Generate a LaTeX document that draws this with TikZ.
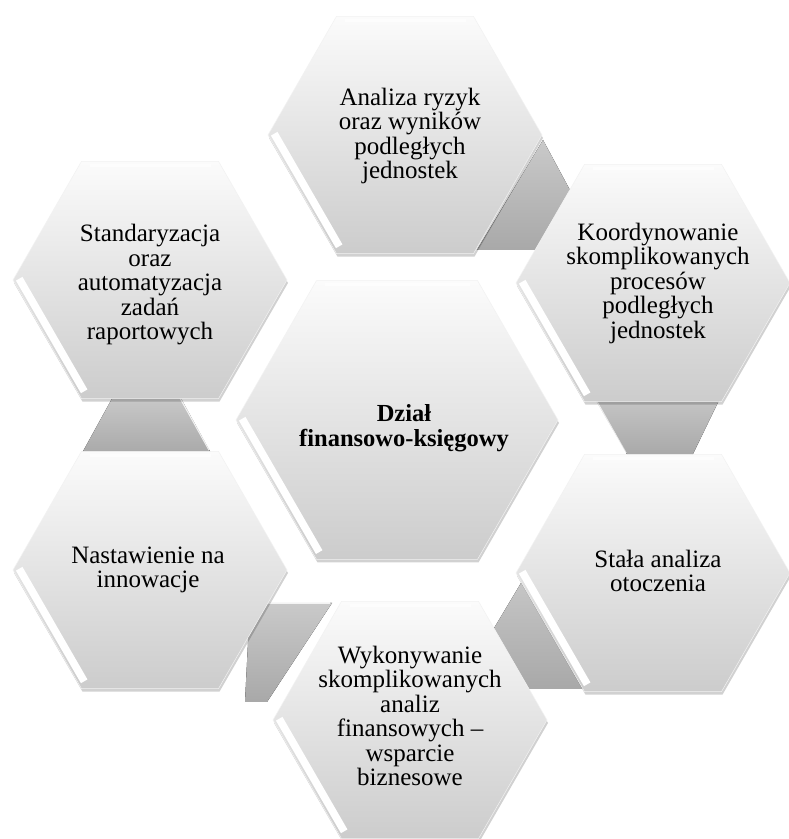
\documentclass[tikz,border=0pt]{standalone}
\usepackage{fontspec}
\setmainfont{Liberation Serif}
\usetikzlibrary{calc,shapes.geometric,shadows}
\tikzset{
  hexo/.style={regular polygon, regular polygon sides=6, minimum size=274pt,
    inner sep=0pt, outer sep=0pt, top color=gray!3, bottom color=gray!40,
    draw=white!90!gray, line width=0.5pt,
    drop shadow={fill=black, opacity=0.18, shadow xshift=1pt, shadow yshift=-3pt}},
  hexc/.style={hexo, minimum size=322pt},
  conn/.style={top color=gray!42, bottom color=gray!68, draw=none},
  connhl/.style={white, line width=1.2pt, opacity=0.8},
  txt/.style={align=center, font=\fontsize{25}{24.5}\selectfont, inner sep=0pt},
  bevel/.style={white, line width=7.5pt, shorten <=2pt, shorten >=5pt},
  tophl/.style={white, line width=3pt, opacity=0.75, shorten <=8pt, shorten >=8pt}
}
\begin{document}
\begin{tikzpicture}[x=1pt,y=1pt]
\useasboundingbox (0,0) rectangle (789,839);
\fill[white] (0,0) rectangle (789,839);
\coordinate (cT) at (405,704);
\coordinate (cL) at (150,559);
\coordinate (cC) at (397,419);
\coordinate (cR) at (653,556);
\coordinate (cBR) at (653,266);
\coordinate (cB) at (410,119);
\coordinate (cLB) at (150,269);
% connectors (behind the hexagons)
\fill[conn] (543,699) -- (578,634) -- (560,589) -- (477,589) -- cycle;
\fill[conn] (590,449) -- (628,383) -- (692,383) -- (724,449) -- cycle;
\draw[connhl] (592,446) -- (626,386);
\fill[conn] (530,271) -- (478,184) -- (500,150) -- (600,150) -- cycle;
\fill[conn] (250,236) -- (332,236) -- (267,137) -- (245,137) -- cycle;
\draw[connhl] (262,236) -- (330,236);
\fill[conn] (114,444) -- (179,444) -- (212,384) -- (81,384) -- cycle;
\draw[connhl] (180,441) -- (209,389);
% hexagons
\node[hexo] (T) at (cT) {};
\node[hexo] (L) at (cL) {};
\node[hexc] (C) at (cC) {};
\node[hexo] (R) at (cR) {};
\node[hexo] (BR) at (cBR) {};
\node[hexo] (B) at (cB) {};
\node[hexo] (LB) at (cLB) {};
% bevel highlights
\foreach \n/\r in {T/137,L/137,C/161,R/137,BR/137,B/137,LB/137}{
  \draw[bevel] ($(\n.center)+(180:\r)+(30:6)$) -- ($(\n.center)+(240:\r)+(30:6)$);
  \draw[tophl] ($(\n.center)+(120:\r)+(270:4)$) -- ($(\n.center)+(60:\r)+(270:4)$);
}
% texts
\node[txt] (tT) at (410,703) {Analiza ryzyk\\oraz wyników\\podległych\\jednostek};
\node[txt] (tL) at (150,554) {Standaryzacja\\oraz\\automatyzacja\\zadań\\raportowych};
\node[txt, font=\fontsize{24.5}{24.5}\selectfont\bfseries] (tC) at (404,411) {Dział\\finansowo-księgowy};
\node[txt] (tR) at (658,556) {Koordynowanie\\skomplikowanych\\procesów\\podległych\\jednostek};
\node[txt] (tBR) at (658,268) {Stała analiza\\otoczenia};
\node[txt] (tB) at (410,123) {Wykonywanie\\skomplikowanych\\analiz\\finansowych –\\wsparcie\\biznesowe};
\node[txt] (tLB) at (148,269) {Nastawienie na\\innowacje};
\end{tikzpicture}
\end{document}
